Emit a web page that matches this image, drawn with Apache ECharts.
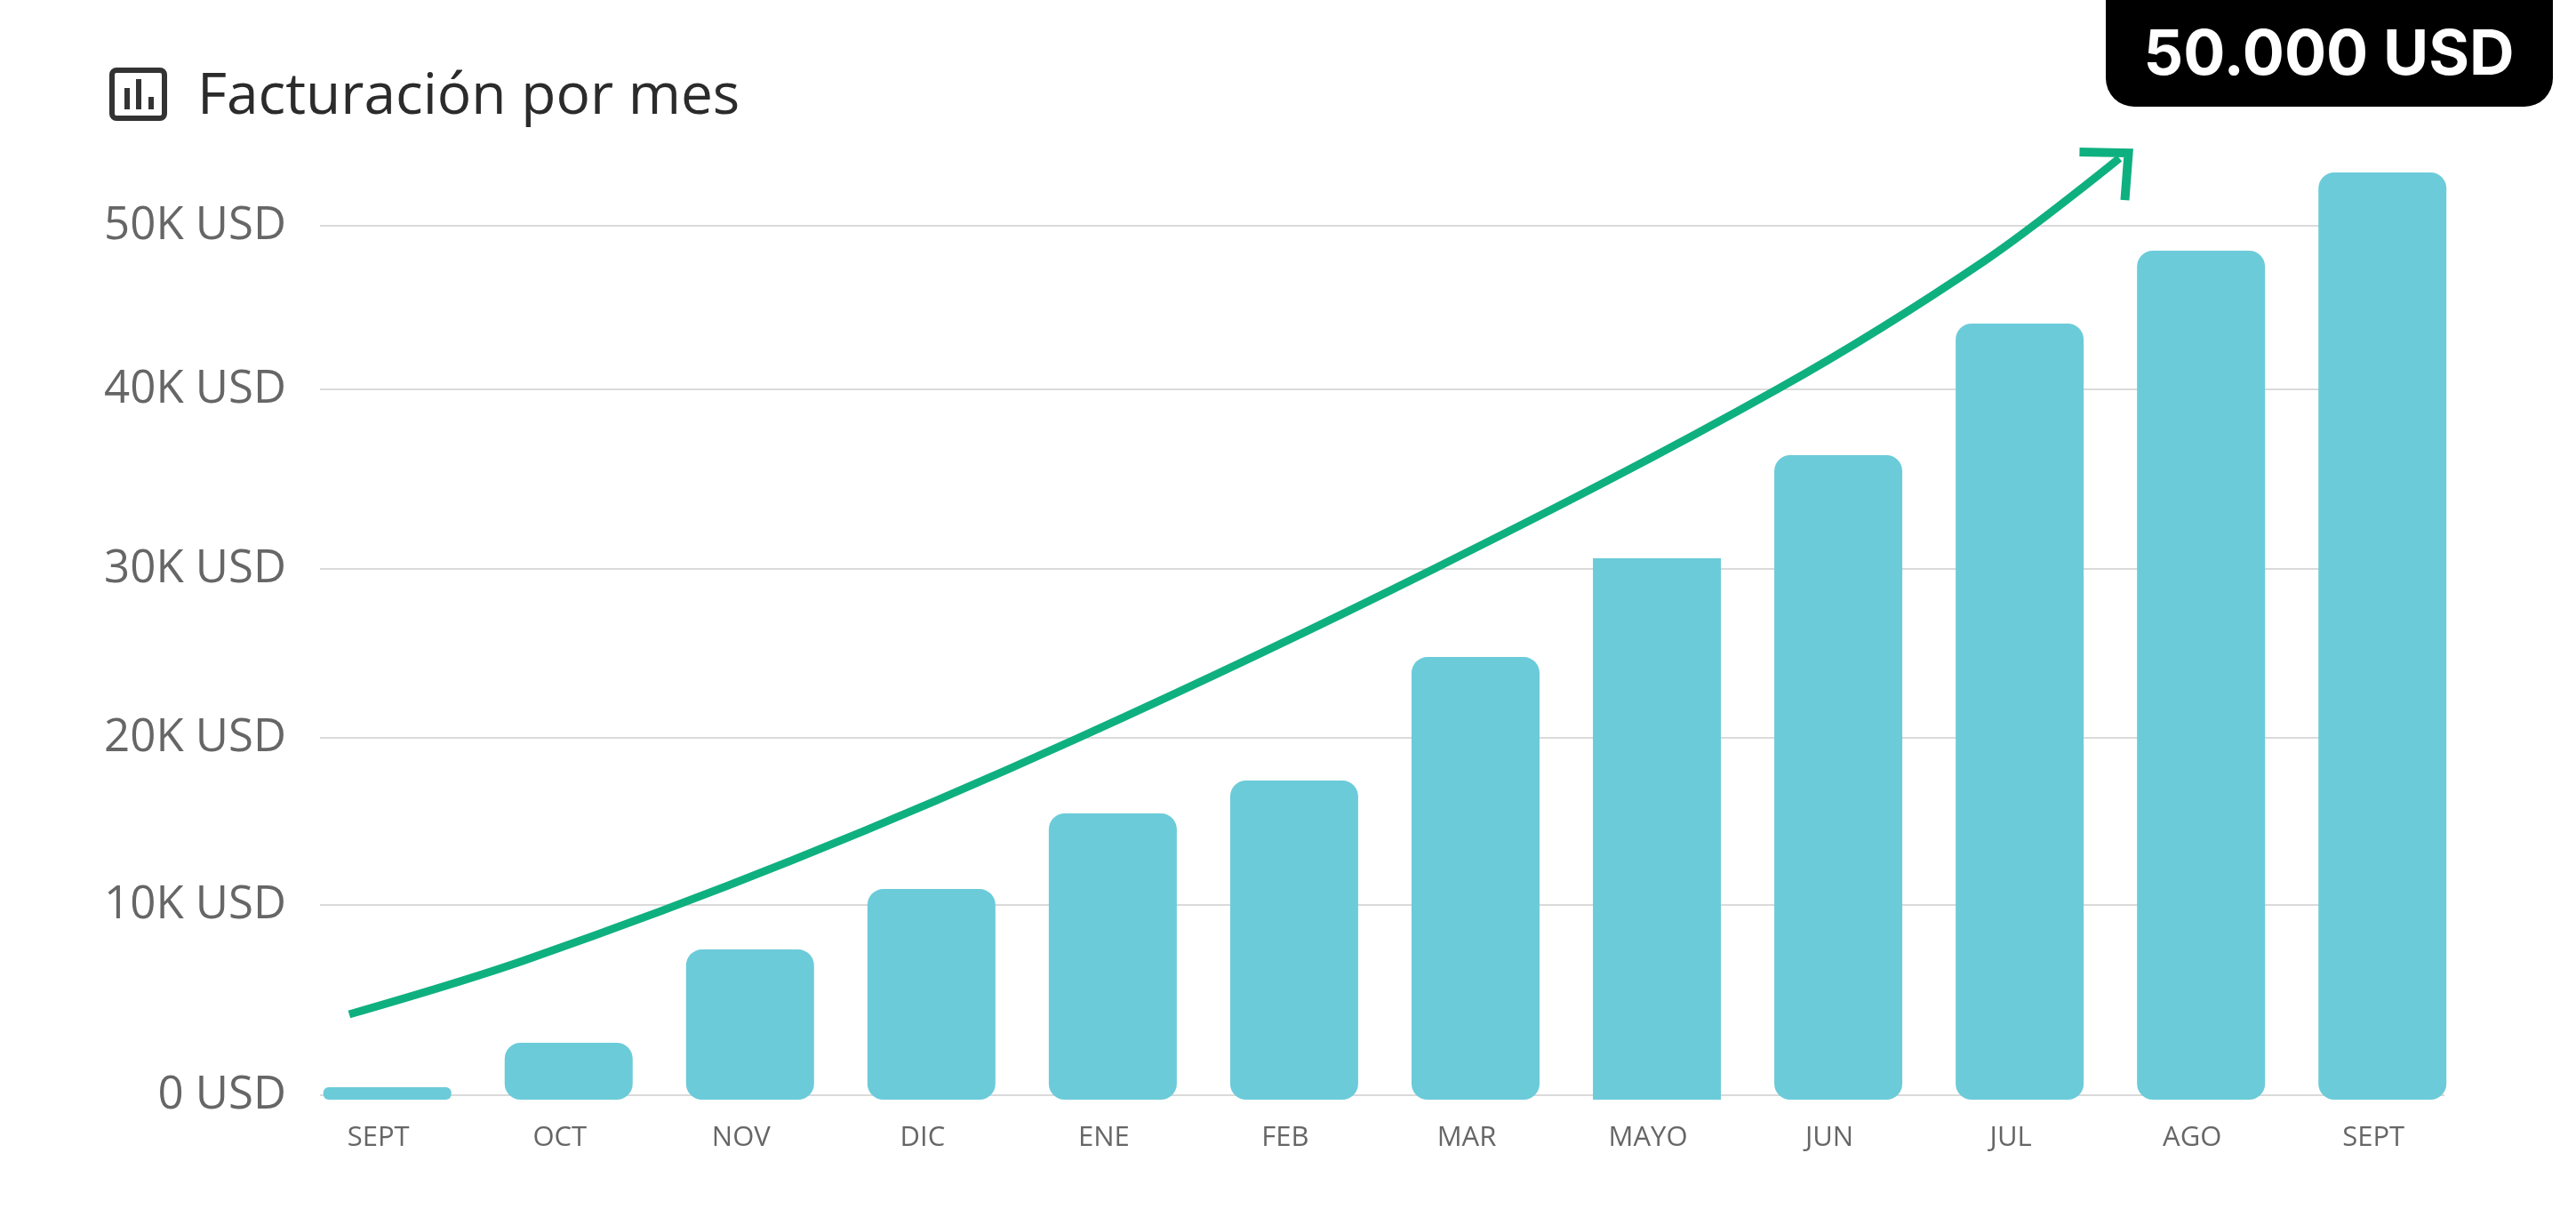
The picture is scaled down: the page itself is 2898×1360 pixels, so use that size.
<!DOCTYPE html>
<html>
<head>
<meta charset="utf-8">
<title>Facturación por mes</title>
<style>
  html, body { margin: 0; padding: 0; background: #fff; }
  #main { width: 2898px; height: 1360px; }
</style>
<script src="https://cdn.jsdelivr.net/npm/echarts@6/dist/echarts.min.js"></script>
</head>
<body>
<div id="main"></div>
<script>
var months = ["SEPT", "OCT", "NOV", "DIC", "ENE", "FEB", "MAR", "MAYO", "JUN", "JUL", "AGO", "SEPT"];
var revenue = [460, 3020, 8380, 11860, 16210, 18100, 25200, 30880, 36810, 44380, 48570, 53070];

// the gridlines in the picture are not evenly spaced, so ticks sit where they were drawn
var yTickValues = [0, 10940, 20550, 30260, 40590, 50000];
var yTickLabels = ["0 USD", "10K USD", "20K USD", "30K USD", "40K USD", "50K USD"];

// growth arrow, x in month positions, y in USD
var trendX = [-0.21, 0.76, 2.23, 3.8, 5.77, 7.67, 8.81, 9.55];
var trendY = [4650, 7770, 13500, 20500, 30270, 40640, 48010, 53890];
var headX = [9.33, 9.6, 9.58];
var headY = [54240, 54190, 51480];

var barColor = "#6BCBD9";
var arrowColor = "#0FB07F";
var font = "Open Sans";
var barWidth = 144;
var axisMin = -256; // the bars hang slightly below the 0 USD line

function zip(xs, ys) {
  return xs.map(function (x, i) { return [x, ys[i]]; });
}

// a plain bar always starts at 0, these start at the bottom of the axis
function renderBar(params, api) {
  var i = api.value(0);
  var top = api.coord([i, api.value(1)]);
  var bottom = api.coord([i, axisMin]);
  // MAYO has square corners, the first bar is too short for the normal radius
  var r = i === 7 ? 0 : i === 0 ? 6 : 18;
  return {
    type: "rect",
    shape: { x: top[0] - barWidth / 2, y: top[1], width: barWidth, height: bottom[1] - top[1], r: r },
    style: { fill: barColor },
  };
}

var myChart = echarts.init(document.getElementById("main"));
var option = {
  animation: false,
  backgroundColor: "#fff",
  grid: { left: 360, right: 148, top: 100, bottom: 123 },
  xAxis: {
    type: "value",
    min: -0.371,
    max: 11.342,
    splitLine: { show: false },
    axisLine: { show: false },
    axisTick: { show: false },
    axisLabel: {
      customValues: months.map(function (m, i) { return i; }),
      formatter: function (v) { return months[v]; },
      color: "#666",
      fontFamily: font,
      fontSize: 31,
      margin: 28,
      padding: [0, 20, 0, 0],
    },
  },
  yAxis: {
    type: "value",
    min: axisMin,
    max: 57873,
    axisLine: { show: false },
    axisTick: { show: false, customValues: yTickValues },
    splitLine: { lineStyle: { color: "#DADADA", width: 2 } },
    axisLabel: {
      customValues: yTickValues,
      formatter: function (v) { return yTickLabels[yTickValues.indexOf(v)]; },
      color: "#666",
      fontFamily: font,
      fontWeight: 500,
      fontSize: 51,
      margin: 38,
      padding: [0, 0, 8, 0],
    },
  },
  series: [
    {
      type: "custom",
      data: zip(months.map(function (m, i) { return i; }), revenue),
      encode: { x: 0, y: 1 },
      renderItem: renderBar,
      clip: false,
    },
    {
      type: "line",
      data: zip(trendX, trendY),
      smooth: 0.35,
      symbol: "none",
      clip: false,
      lineStyle: { color: arrowColor, width: 9, cap: "butt" },
      z: 5,
    },
    {
      type: "line",
      data: zip(headX, headY),
      symbol: "none",
      clip: false,
      lineStyle: { color: arrowColor, width: 10, join: "miter", cap: "butt" },
      z: 5,
    },
  ],
  graphic: [
    // title icon
    { type: "rect", shape: { x: 126, y: 79, width: 59, height: 54, r: 5 }, style: { fill: "#fff", stroke: "#333", lineWidth: 6 } },
    { type: "rect", shape: { x: 140, y: 99, width: 6, height: 24 }, style: { fill: "#333" } },
    { type: "rect", shape: { x: 153, y: 89, width: 6, height: 34 }, style: { fill: "#333" } },
    { type: "rect", shape: { x: 167, y: 109, width: 6, height: 14 }, style: { fill: "#333" } },
    { type: "text", x: 222, y: 110, style: { text: "Facturación por mes", font: "500 64px 'Open Sans'", fill: "#2b2b2b", verticalAlign: "middle" } },
    // total badge
    { type: "rect", shape: { x: 2369, y: -30, width: 503, height: 150, r: 32 }, style: { fill: "#000" } },
    { type: "text", x: 2620, y: 63, style: { text: "50.000 USD", font: "700 70px Inter", fill: "#fff", align: "center", verticalAlign: "middle" } },
  ],
};
myChart.setOption(option);
</script>
</body>
</html>
